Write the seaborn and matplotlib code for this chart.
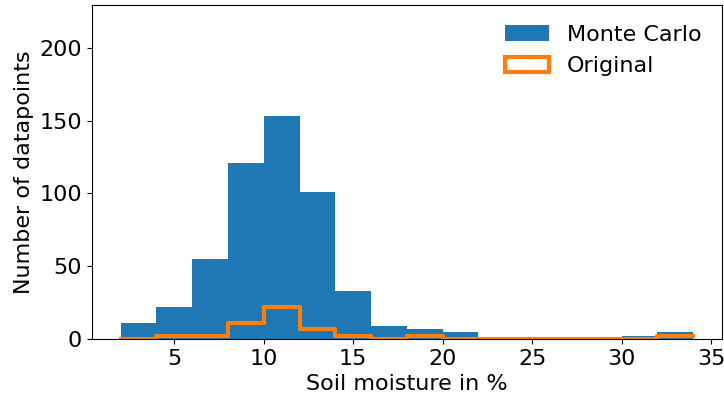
import numpy as np
import pandas as pd
import matplotlib
matplotlib.use("Agg")
import matplotlib.pyplot as plt
from matplotlib.patches import Patch
import seaborn as sns

# Histogram bins (soil moisture, %), width 2 from 2 to 34
bin_edges = [2, 4, 6, 8, 10, 12, 14, 16, 18, 20, 22, 24, 26, 28, 30, 32, 34]
# Counts per bin
monte_carlo_counts = [11, 22, 55, 121, 153, 101, 33, 9, 7, 5, 0, 0, 0, 0, 2, 5]
original_counts = [0, 2, 2, 11, 22, 7, 2, 0, 2, 0, 0, 0, 0, 0, 0, 2]

series_labels = ["Monte Carlo", "Original"]
x_label = "Soil moisture in %"
y_label = "Number of datapoints"

blue = "#1f77b4"
orange = "#ff7f0e"

edges = np.asarray(bin_edges, dtype=float)
centers = (edges[:-1] + edges[1:]) / 2
df = pd.DataFrame({"moisture": centers,
                   "mc": monte_carlo_counts,
                   "orig": original_counts})

fig, ax = plt.subplots(figsize=(7.24, 4.01), dpi=100)
fig.subplots_adjust(left=0.127, right=0.997, top=0.9875, bottom=0.1546)

sns.histplot(data=df, x="moisture", weights="mc", bins=list(bin_edges), ax=ax,
             element="bars", color=blue, alpha=1, linewidth=0)
sns.histplot(data=df, x="moisture", weights="orig", bins=list(bin_edges), ax=ax,
             element="step", fill=False, color=orange, linewidth=3)

ax.set_ylim(0, 1.5 * max(monte_carlo_counts))
ax.set_xlabel(x_label, fontsize=16)
ax.set_ylabel(y_label, fontsize=16)
ax.tick_params(labelsize=16)

handles = [Patch(facecolor=blue, edgecolor="none"),
           Patch(facecolor="white", edgecolor=orange, linewidth=3)]
ax.legend(handles, series_labels, loc="upper right", frameon=False, fontsize=16)

fig.savefig("out.png", dpi=100)
